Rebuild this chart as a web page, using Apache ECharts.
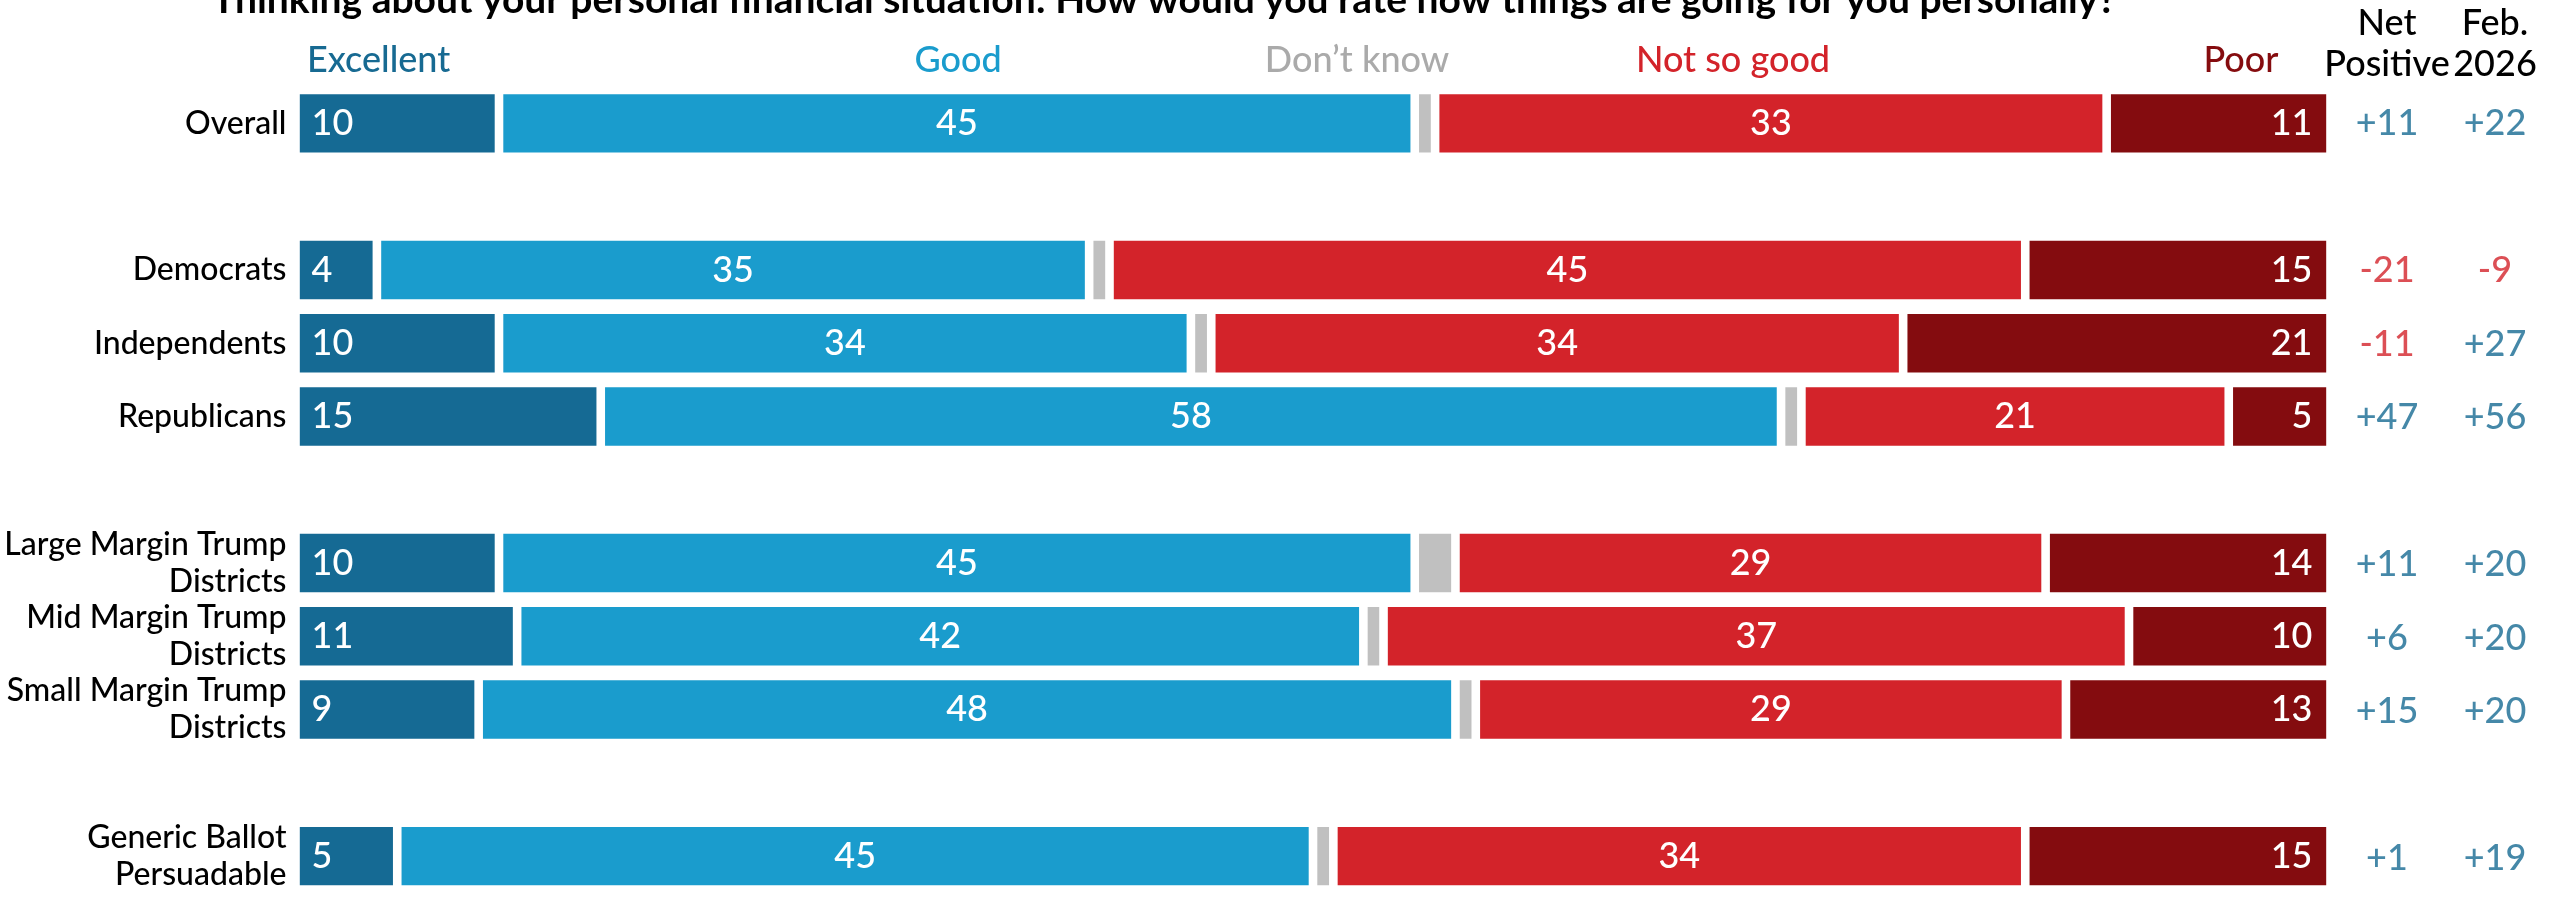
<!DOCTYPE html>
<html><head><meta charset="utf-8">
<script src="https://cdn.jsdelivr.net/npm/echarts@6/dist/echarts.min.js"></script>
<style>html,body{margin:0;padding:0;background:#fff}#c{width:2552px;height:903px}</style>
</head><body><div id="c"></div>
<script>
// ---------- data ----------
const title = 'Thinking about your personal financial situation: How would you rate how things are going for you personally?';
const groupSizes = [1, 3, 3, 1];
const rowLabels = ['Overall', 'Democrats', 'Independents', 'Republicans',
  'Large Margin Trump\nDistricts', 'Mid Margin Trump\nDistricts', 'Small Margin Trump\nDistricts',
  'Generic Ballot\nPersuadable'];
const answerLabels = ['Excellent', 'Good', 'Don\u2019t know', 'Not so good', 'Poor'];
const excellent = [10, 4, 10, 15, 10, 11, 9, 5];
const good      = [45, 35, 34, 58, 45, 42, 48, 45];
const dontKnow  = [1, 1, 1, 1, 2, 1, 1, 1];
const notSoGood = [33, 45, 34, 21, 29, 37, 29, 34];
const poor      = [11, 15, 21, 5, 14, 10, 13, 15];
const columnLabels = ['Net\nPositive', 'Feb.\n2026'];
const netPositive = [11, -21, -11, 47, 11, 6, 15, 1];
const feb2026     = [22, -9, 27, 56, 20, 20, 20, 19];

// ---------- build ----------
const slots = [];
let r = 0;
groupSizes.forEach((n, g) => { if (g > 0) slots.push(-1); for (let i = 0; i < n; i++) slots.push(r++); });
const slotLabels = slots.map(i => i < 0 ? '' : rowLabels[i]);
const answers = [excellent, good, dontKnow, notSoGood, poor];
const totals = rowLabels.map((_, i) => answers.reduce((s, a) => s + a[i], 0));

const barColors = ['#156a94', '#1a9ccd', '#c0c0c0', '#d3232a', '#840c0f'];
const headColors = ['#176a92', '#1a9ccd', '#aaaaaa', '#d3232a', '#850c0f'];
const FONT = 'Lato';

const labelCfg = [
  { show: true, position: 'insideLeft', distance: 16 },
  { show: true, position: 'inside' },
  { show: false },
  { show: true, position: 'inside' },
  { show: true, position: 'insideRight', distance: 18 }
];

const barSeries = answers.map((arr, k) => ({
  type: 'bar', name: answerLabels[k], stack: 'total', barWidth: 67,
  xAxisIndex: 0, yAxisIndex: 0,
  itemStyle: { color: barColors[k], borderColor: '#ffffff', borderWidth: 4.3 },
  label: Object.assign({ color: '#ffffff', fontSize: 36, fontWeight: 500, fontFamily: FONT, formatter: p => String(p.data.raw) }, labelCfg[k]),
  data: slots.map(i => i < 0 ? '-' : { value: arr[i] / totals[i] * 100, raw: arr[i] })
}));

const fmt = v => v > 0 ? '+' + v : String(v);
const colSeries = [netPositive, feb2026].map((arr, c) => ({
  type: 'scatter', xAxisIndex: 1, yAxisIndex: 1, symbolSize: 1,
  itemStyle: { color: 'rgba(0,0,0,0)' },
  label: { show: true, position: 'inside', fontSize: 36, fontWeight: 500, fontFamily: FONT, formatter: p => fmt(p.data.raw) },
  data: slots.map((i, s) => i < 0 ? null : {
    value: [c, s], raw: arr[i], label: { color: arr[i] >= 0 ? '#176a92' : '#d3232a' }
  }).filter(Boolean)
}));

const headPos = [
  { x: 307, align: 'left' },
  { x: 958, align: 'center' },
  { x: 1357, align: 'center' },
  { x: 1733, align: 'center' },
  { x: 2241, align: 'center' }
];
const graphics = [{
  type: 'text', x: 1164, y: 0,
  style: { text: title, fill: '#000', fontSize: 39, fontWeight: 'bold', fontFamily: FONT, align: 'center', verticalAlign: 'middle' }
}].concat(answerLabels.map((t, k) => ({
  type: 'text', x: headPos[k].x, y: 60,
  style: { text: t, fill: headColors[k], fontSize: 36, fontWeight: 500, fontFamily: FONT, align: headPos[k].align, verticalAlign: 'middle' }
})));

const chart = echarts.init(document.getElementById('c'));
chart.setOption({
  animation: false,
  backgroundColor: '#ffffff',
  textStyle: { fontFamily: FONT },
  grid: [
    { left: 295.5, right: 221.5, top: 86.75, height: 808.5 },
    { left: 2333, width: 216, top: 86.75, height: 808.5 }
  ],
  xAxis: [
    { type: 'value', gridIndex: 0, min: 0, max: 100, show: false },
    { type: 'category', gridIndex: 1, data: columnLabels, position: 'top',
      axisLine: { show: false }, axisTick: { show: false }, splitLine: { show: false },
      axisLabel: { interval: 0, hideOverlap: false, fontSize: 36, fontWeight: 500, lineHeight: 41, color: '#000', margin: 2, fontFamily: FONT } }
  ],
  yAxis: [
    { type: 'category', gridIndex: 0, data: slotLabels, inverse: true,
      axisLine: { show: false }, axisTick: { show: false }, splitLine: { show: false },
      axisLabel: { interval: 0, fontSize: 32, fontWeight: 500, lineHeight: 37, color: '#000', margin: 9, fontFamily: FONT, align: 'right', padding: [0, 0, 20, 0] } },
    { type: 'category', gridIndex: 1, data: slotLabels, inverse: true, show: false }
  ],
  series: barSeries.concat(colSeries),
  graphic: graphics
});
</script></body></html>
